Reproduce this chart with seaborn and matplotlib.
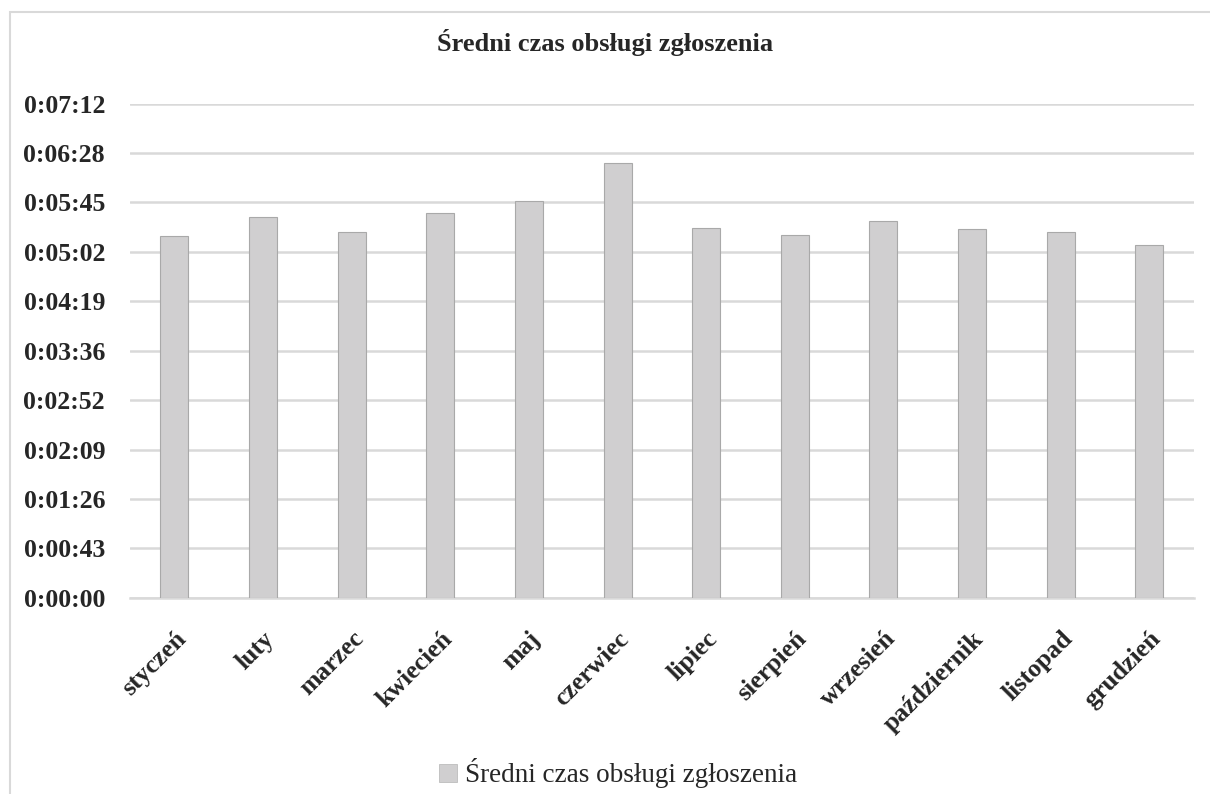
import matplotlib
matplotlib.use("Agg")
import matplotlib.pyplot as plt
import seaborn as sns
import pandas as pd
from matplotlib.patches import Patch, Rectangle

months = ["styczeń", "luty", "marzec", "kwiecień", "maj", "czerwiec",
          "lipiec", "sierpień", "wrzesień", "październik", "listopad", "grudzień"]
# average handling time in seconds
seconds = [316, 333, 320, 336, 347, 380, 323, 317, 329, 322, 320, 308]
ytick_values = [0, 43.2, 86.4, 129.6, 172.8, 216.0, 259.2, 302.4, 345.6, 388.8, 432.0]
ytick_labels = ["0:00:00", "0:00:43", "0:01:26", "0:02:09", "0:02:52", "0:03:36",
                "0:04:19", "0:05:02", "0:05:45", "0:06:28", "0:07:12"]
title = "Średni czas obsługi zgłoszenia"
series_name = "Średni czas obsługi zgłoszenia"

sns.set_theme(style="white")
plt.rcParams["font.family"] = ["Liberation Serif", "DejaVu Serif"]

df = pd.DataFrame({"miesiąc": months, "czas": seconds})

fig = plt.figure(figsize=(12.10, 7.94), dpi=100)
ax = fig.add_axes([0.1075, 0.247, 0.879, 0.6225])

bar_color = "#d0cfd0"
sns.barplot(data=df, x="miesiąc", y="czas", color=bar_color, width=0.316,
            edgecolor="#a9a9a9", linewidth=0.8, ax=ax, zorder=3)

ax.set_ylim(0, 432)
ax.set_xlim(-0.5, len(months) - 0.5)
ax.set_yticks(ytick_values)
ax.set_yticklabels(ytick_labels, fontsize=18.5, fontweight="bold")
ax.set_xticks(range(len(months)))
ax.set_xticklabels(months, rotation=45, ha="right", rotation_mode="anchor",
                   fontsize=18.5, fontweight="bold")
ax.tick_params(axis="x", pad=21, length=0)
ax.tick_params(axis="y", pad=18, length=0)
ax.set_xlabel("")
ax.set_ylabel("")

ax.yaxis.grid(True, color="#d9d9d9", linewidth=1.8, zorder=0)
ax.set_axisbelow(True)
for s in ["top", "right", "left"]:
    ax.spines[s].set_visible(False)
ax.spines["bottom"].set_color("#d9d9d9")
ax.spines["bottom"].set_linewidth(1.8)

fig.text(0.5, 0.947, title, ha="center", va="center", fontsize=19, fontweight="bold")

handle = Patch(facecolor=bar_color, edgecolor="#bdbdbd", linewidth=0.6)
fig.legend([handle], [series_name], loc="center", bbox_to_anchor=(0.511, 0.026),
           frameon=False, fontsize=19.5, handlelength=0.65, handleheight=0.65,
           handletextpad=0.3)

# chart area border
fig.patches.append(Rectangle((10 / 1210, -0.01), 1.05, 1 - 12 / 794 + 0.01,
                             transform=fig.transFigure, fill=False,
                             edgecolor="#d9d9d9", linewidth=1.5))

fig.savefig("out.png", dpi=100)
